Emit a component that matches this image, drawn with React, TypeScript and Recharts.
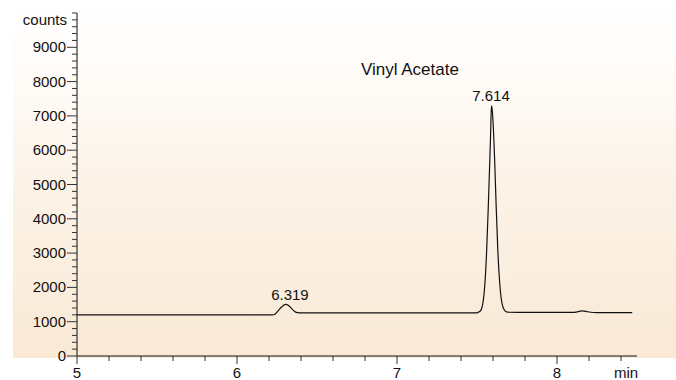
import { LineChart, Line, XAxis, YAxis, ReferenceDot } from "recharts";

// retention time (min) and detector signal (counts)
const times = [
  5.0, 5.5, 6.0, 6.2, 6.22, 6.235, 6.25, 6.27, 6.29, 6.305, 6.32, 6.34, 6.36, 6.38, 6.4,
  6.6, 7.0, 7.3, 7.45, 7.5, 7.51, 7.52, 7.53, 7.54, 7.55, 7.56, 7.57, 7.58, 7.585, 7.59,
  7.595, 7.6, 7.61, 7.62, 7.63, 7.64, 7.65, 7.66, 7.67, 7.68, 7.7, 7.75, 7.9, 8.05, 8.1,
  8.13, 8.155, 8.18, 8.21, 8.25, 8.35, 8.47,
];
const counts = [
  1200, 1200, 1200, 1200, 1200, 1210, 1280, 1390, 1475, 1505, 1480, 1390, 1300, 1262, 1255,
  1255, 1255, 1256, 1256, 1258, 1280, 1310, 1400, 1640, 2150, 3030, 4280, 5700, 6450, 7295,
  7180, 6850, 5750, 4350, 3100, 2250, 1720, 1460, 1350, 1300, 1276, 1272, 1272, 1270, 1270,
  1290, 1318, 1300, 1275, 1266, 1264, 1264,
];

const xTicks = [
  5, 5.2, 5.4, 5.6, 5.8, 6, 6.2, 6.4, 6.6, 6.8, 7, 7.2, 7.4, 7.6, 7.8, 8, 8.2, 8.4,
];
const xTickLabels: Record<string, string> = { "5": "5", "6": "6", "7": "7", "8": "8" };

const yTicks = [
  0, 200, 400, 600, 800, 1000, 1200, 1400, 1600, 1800, 2000, 2200, 2400, 2600, 2800,
  3000, 3200, 3400, 3600, 3800, 4000, 4200, 4400, 4600, 4800, 5000, 5200, 5400, 5600,
  5800, 6000, 6200, 6400, 6600, 6800, 7000, 7200, 7400, 7600, 7800, 8000, 8200, 8400,
  8600, 8800, 9000, 9200, 9400, 9600, 9800, 10000,
];
const yTickLabels: Record<string, string> = {
  "0": "0", "1000": "1000", "2000": "2000", "3000": "3000", "4000": "4000",
  "5000": "5000", "6000": "6000", "7000": "7000", "8000": "8000", "9000": "9000",
};

const peakLabels = [
  { t: 6.331, c: 1630, text: "6.319" },
  { t: 7.5875, c: 7443, text: "7.614" },
  { t: 7.081, c: 8192, text: "Vinyl Acetate", title: true },
];

const data = times.map((t, i) => ({ t, c: counts[i] }));

const FONT = '"Liberation Sans", Arial, Helvetica, sans-serif';
const INK = "#111";

function XTick(props: any) {
  const { x, y, payload } = props;
  const label = xTickLabels[String(payload.value)];
  const major = label !== undefined;
  return (
    <g>
      <line x1={x} y1={y} x2={x} y2={y + (major ? 8 : 5)} stroke="#333" strokeWidth={1} />
      {major && (
        <text x={x} y={y + 22} textAnchor="middle" fontSize={15} fill={INK} fontFamily={FONT}>
          {label}
        </text>
      )}
    </g>
  );
}

function YTick(props: any) {
  const { x, y, payload } = props;
  const v = payload.value;
  const label = yTickLabels[String(v)];
  const major = label !== undefined;
  return (
    <g>
      <line x1={x} y1={y} x2={x - (major ? 10 : 5)} y2={y} stroke="#333" strokeWidth={1} />
      {major && (
        <text x={x - 11} y={y + 5} textAnchor="end" fontSize={15} fill={INK} fontFamily={FONT}>
          {label}
        </text>
      )}
      {v === 10000 && (
        <text x={x - 10} y={y + 12} textAnchor="end" fontSize={15} fill={INK} fontFamily={FONT}>
          counts
        </text>
      )}
    </g>
  );
}

export default function App() {
  return (
    <div style={{ position: "relative", width: 676, height: 380, background: "#fff" }}>
      <style>{"body{margin:0}"}</style>
      <div
        style={{
          position: "absolute",
          left: 13,
          top: 0,
          width: 663,
          height: 358,
          background:
            "linear-gradient(to bottom, #ffffff 0%, #fffdfb 15%, #fcf3e8 50%, #f9e9d5 100%)",
        }}
      />
      <div style={{ position: "absolute", left: 0, top: 0 }}>
        <LineChart
          width={676}
          height={380}
          data={data}
          margin={{ top: 13, right: 39, left: 0, bottom: 0 }}
        >
          <XAxis
            type="number"
            dataKey="t"
            domain={[5, 8.5]}
            ticks={xTicks}
            allowDataOverflow
            height={24}
            tickSize={0}
            tickMargin={0}
            tickLine={false}
            axisLine={{ stroke: "#111", strokeWidth: 1 }}
            tick={<XTick />}
            interval={0}
            label={{
              content: (p: any) => (
                <text
                  x={p.viewBox.x + p.viewBox.width - 11}
                  y={p.viewBox.y + 22}
                  textAnchor="middle"
                  fontSize={15}
                  fill={INK}
                  fontFamily={FONT}
                >
                  min
                </text>
              ),
            }}
          />
          <YAxis
            type="number"
            domain={[0, 10000]}
            ticks={yTicks}
            width={77}
            tickSize={0}
            tickMargin={0}
            tickLine={false}
            interval={0}
            axisLine={{ stroke: "#111", strokeWidth: 1 }}
            tick={<YTick />}
          />
          <Line
            type="monotone"
            dataKey="c"
            stroke="#111"
            strokeWidth={1.2}
            dot={false}
            isAnimationActive={false}
          />
          {peakLabels.map((p) => (
            <ReferenceDot
              key={p.text}
              x={p.t}
              y={p.c}
              r={0}
              fill="none"
              stroke="none"
              label={{
                content: (lp: any) => (
                  <text
                    x={lp.viewBox.x}
                    y={lp.viewBox.y}
                    textAnchor="middle"
                    fontSize={p.title ? 17 : 15}
                    fill={INK}
                    fontFamily={FONT}
                  >
                    {p.text}
                  </text>
                ),
              }}
            />
          ))}
        </LineChart>
      </div>
    </div>
  );
}
